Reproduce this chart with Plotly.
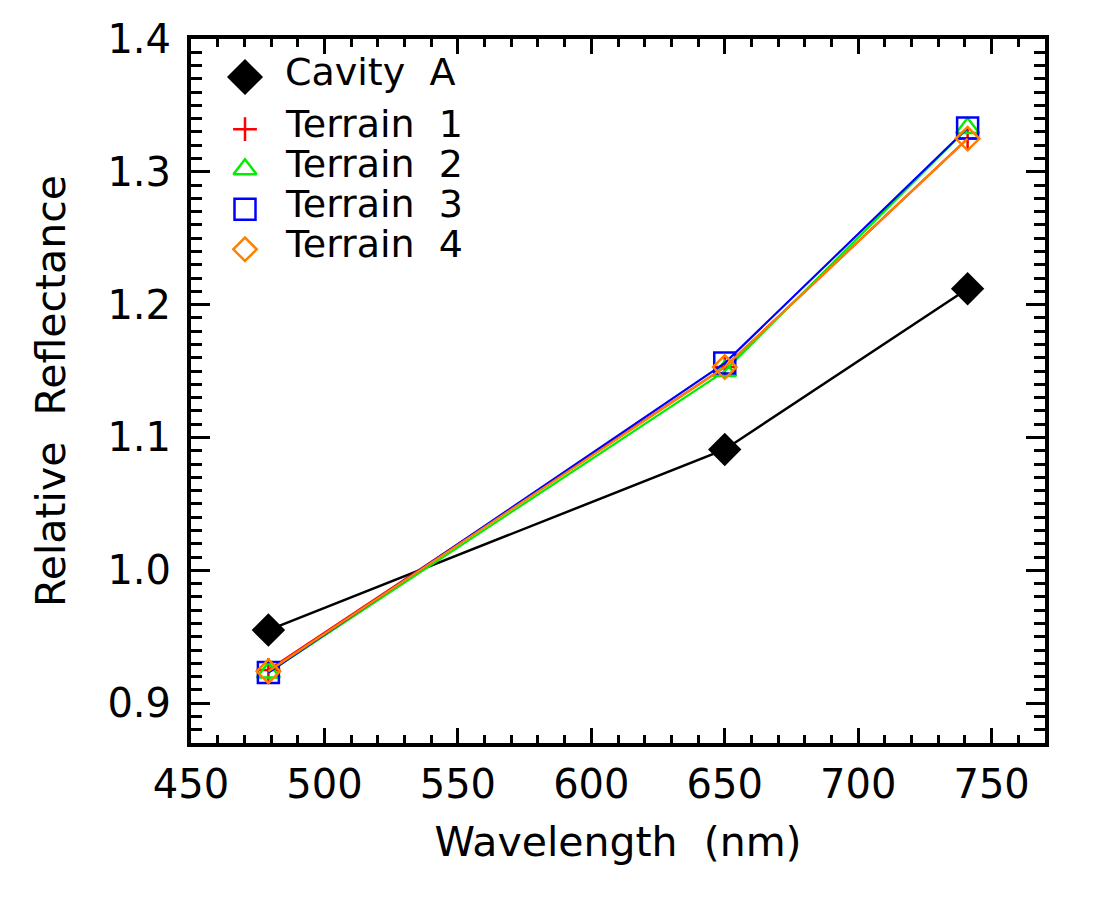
import plotly.graph_objects as go

# ---- data ----
wavelength = [479, 650, 741]
series_names = ["Cavity\u00a0\u00a0A", "Terrain\u00a0\u00a01", "Terrain\u00a0\u00a02",
                "Terrain\u00a0\u00a03", "Terrain\u00a0\u00a04"]
cavity_a = [0.955, 1.091, 1.212]
terrain_1 = [0.925, 1.153, 1.325]
terrain_2 = [0.923, 1.150, 1.333]
terrain_3 = [0.923, 1.156, 1.333]
terrain_4 = [0.924, 1.153, 1.325]
x_ticks = [450, 500, 550, 600, 650, 700, 750]
y_ticks = [0.9, 1.0, 1.1, 1.2, 1.3, 1.4]

series_values = [cavity_a, terrain_1, terrain_2, terrain_3, terrain_4]
colors = ["black", "#ff0000", "#00ee00", "#0000ff", "#ff8000"]
symbols = ["diamond", "cross-thin", "triangle-up-open", "square-open", "diamond-open"]
sizes = [23, 17, 20, 21, 18]
line_w = [2.5, 2.2, 2.2, 2.2, 2.2]

FONT = "DejaVu Sans"
fig = go.Figure()

for vals, c, s, sz, lw, nm in zip(series_values, colors, symbols, sizes, line_w, series_names):
    fig.add_trace(go.Scatter(
        x=wavelength, y=vals, mode="lines+markers", name=nm, showlegend=False,
        line=dict(color=c, width=lw),
        marker=dict(symbol=s, size=sz, color=c, line=dict(color=c, width=2.5)),
        xaxis="x", yaxis="y"))

# ---- custom legend drawn on an overlay axis (row index based) ----
rows = [0] + [1.3 + k for k in range(4)]
for i, (c, s, sz, nm) in enumerate(zip(colors, symbols, sizes, series_names)):
    fig.add_trace(go.Scatter(
        x=[54], y=[rows[i]], mode="markers", showlegend=False, hoverinfo="skip",
        marker=dict(symbol=s, size=(sz + 2) if i == 0 else sz, color=c,
                    line=dict(color=c, width=2.5)),
        xaxis="x2", yaxis="y2"))
    fig.add_annotation(x=92, y=rows[i] - 0.13, xref="x2", yref="y2", text=nm,
                       showarrow=False, xanchor="left", yanchor="middle",
                       font=dict(family=FONT, size=38, color="black"))

axis_common = dict(
    showgrid=False, zeroline=False, showline=True, linecolor="black", linewidth=4,
    mirror="allticks", ticks="inside", tickcolor="black", tickwidth=3,
    tickfont=dict(family=FONT, size=40, color="black"),
)

fig.update_layout(
    width=1100, height=900,
    margin=dict(l=191, r=55, t=39, b=157),
    paper_bgcolor="white", plot_bgcolor="white",
    xaxis=dict(range=[450, 770], tickvals=x_ticks, ticklen=15,
               minor=dict(dtick=10, ticklen=8, tickwidth=3, ticks="inside", tickcolor="black"),
               title=dict(text="Wavelength\u00a0\u00a0(nm)", font=dict(family=FONT, size=41, color="black"),
                          standoff=22),
               ticklabelstandoff=3,
               **axis_common),
    yaxis=dict(range=[0.87, 1.40], tickvals=y_ticks, tickformat=".1f", ticklen=19,
               minor=dict(dtick=0.01, ticklen=11, tickwidth=3, ticks="inside", tickcolor="black"),
               title=dict(text="Relative\u00a0\u00a0Reflectance", font=dict(family=FONT, size=41, color="black"),
                          standoff=30),
               ticklabelstandoff=8,
               **axis_common),
    xaxis2=dict(range=[0, 854], domain=[0, 1], overlaying="x", visible=False, fixedrange=True),
    yaxis2=dict(range=[16.625, -0.95], domain=[0, 1], overlaying="y", anchor="x2",
                visible=False, fixedrange=True),
    showlegend=False,
)

fig.write_html("out.html", config={"displayModeBar": False},
               post_script="document.body.style.margin='0px';")
